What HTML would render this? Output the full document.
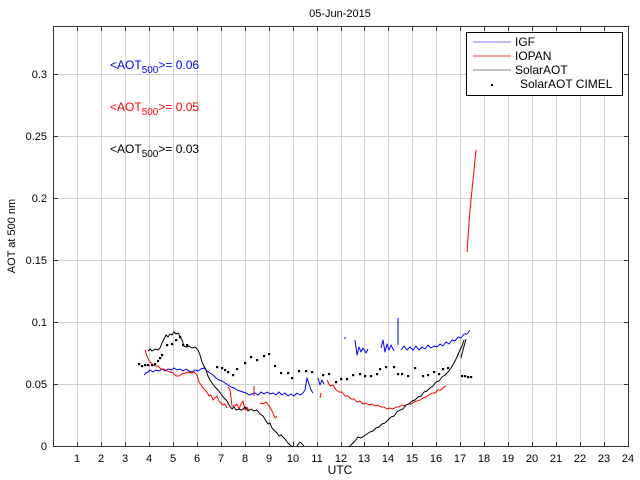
<!DOCTYPE html>
<html><head><meta charset="utf-8"><style>
body{margin:0;background:#fff}
svg{display:block;font-family:"Liberation Sans",sans-serif}
</style></head><body>
<svg width="640" height="480" viewBox="0 0 640 480" xmlns="http://www.w3.org/2000/svg">
<rect width="640" height="480" fill="#fff"/>
<g stroke="#d0d0d0" stroke-width="1">
<path d="M77.5 27V446M101.5 27V446M125.5 27V446M149.5 27V446M173.5 27V446M197.5 27V446M221.5 27V446M245.5 27V446M269.5 27V446M293.5 27V446M317.5 27V446M341.5 27V446M364.5 27V446M388.5 27V446M412.5 27V446M436.5 27V446M460.5 27V446M484.5 27V446M508.5 27V446M532.5 27V446M556.5 27V446M580.5 27V446M604.5 27V446"/>
<path d="M54 384.5H628M54 322.5H628M54 260.5H628M54 198.5H628M54 136.5H628M54 74.5H628"/>
</g>
<rect x="53.5" y="26.5" width="575" height="420" fill="none" stroke="#333" stroke-width="1"/>
<g stroke="#333" stroke-width="1">
<path d="M77.5 446V442M101.5 446V442M125.5 446V442M149.5 446V442M173.5 446V442M197.5 446V442M221.5 446V442M245.5 446V442M269.5 446V442M293.5 446V442M317.5 446V442M341.5 446V442M364.5 446V442M388.5 446V442M412.5 446V442M436.5 446V442M460.5 446V442M484.5 446V442M508.5 446V442M532.5 446V442M556.5 446V442M580.5 446V442M604.5 446V442"/>
<path d="M77.5 27V31M101.5 27V31M125.5 27V31M149.5 27V31M173.5 27V31M197.5 27V31M221.5 27V31M245.5 27V31M269.5 27V31M293.5 27V31M317.5 27V31M341.5 27V31M364.5 27V31M388.5 27V31M412.5 27V31M436.5 27V31M460.5 27V31M484.5 27V31M508.5 27V31M532.5 27V31M556.5 27V31M580.5 27V31M604.5 27V31"/>
<path d="M54 384.5H58M54 322.5H58M54 260.5H58M54 198.5H58M54 136.5H58M54 74.5H58M624 384.5H628M624 322.5H628M624 260.5H628M624 198.5H628M624 136.5H628M624 74.5H628"/>
</g>
<g font-size="11" text-anchor="middle">
<text x="77" y="462">1</text><text x="101" y="462">2</text><text x="125" y="462">3</text><text x="149" y="462">4</text><text x="173" y="462">5</text><text x="197" y="462">6</text><text x="221" y="462">7</text><text x="245" y="462">8</text><text x="269" y="462">9</text><text x="293" y="462">10</text><text x="317" y="462">11</text><text x="341" y="462">12</text><text x="364" y="462">13</text><text x="388" y="462">14</text><text x="412" y="462">15</text><text x="436" y="462">16</text><text x="460" y="462">17</text><text x="484" y="462">18</text><text x="508" y="462">19</text><text x="532" y="462">20</text><text x="556" y="462">21</text><text x="580" y="462">22</text><text x="604" y="462">23</text><text x="628" y="462">24</text>
</g>
<g font-size="11" text-anchor="end">
<text x="47" y="450">0</text><text x="47" y="388">0.05</text><text x="47" y="326">0.1</text><text x="47" y="264">0.15</text><text x="47" y="202">0.2</text><text x="47" y="140">0.25</text><text x="47" y="78">0.3</text>
</g>
<text x="340" y="17" font-size="11" text-anchor="middle">05-Jun-2015</text>
<text x="340" y="474" font-size="12" text-anchor="middle">UTC</text>
<text transform="translate(15,236) rotate(-90)" font-size="11" text-anchor="middle">AOT at 500 nm</text>
<text x="110" y="69" font-size="12" fill="#0000ff">&lt;AOT<tspan font-size="10" dy="4">500</tspan><tspan dy="-4">&gt;= 0.06</tspan></text>
<text x="110" y="111" font-size="12" fill="#ff0000">&lt;AOT<tspan font-size="10" dy="4">500</tspan><tspan dy="-4">&gt;= 0.05</tspan></text>
<text x="110" y="153" font-size="12" fill="#000">&lt;AOT<tspan font-size="10" dy="4">500</tspan><tspan dy="-4">&gt;= 0.03</tspan></text>
<g fill="none" stroke-width="1" stroke-linejoin="round">
<g stroke="#0000ff">
<polyline points="144,375 146,373 148,372 150,370 153,372 156,370 159,371 162,369 165,371 168,369 171,370 174,368 177,370 180,369 183,371 186,369 189,371 192,372 195,370 198,371 201,369 204,368 207,371 210,373 213,375 216,378 219,380 222,381 225,383 228,385 231,387 234,388 237,390 240,391 243,392 246,393 249,395 252,394 255,393 258,395 261,392 264,394 267,392 270,394 273,393 276,395 279,392 282,395 285,393 288,396 291,394 294,396 297,393 300,395 303,393 305,390 307,378 309,384 311,390 313,393"/>
<polyline points="318,378 320,385 322,380 324,384"/>
<polyline points="345,337 345,339"/>
<polyline points="355,340 357,355 359,347 361,352 363,348 366,353 368,349"/>
<polyline points="381,348 383,340 385,352 387,344 389,350 391,345 394,351"/>
<polyline points="398,318 398,345"/>
<polyline points="401,350 404,346 407,350 410,347 413,350 416,346 419,350 422,347 425,349 428,345 431,348 434,346 437,347 440,344 443,346 446,342 449,344 452,340 455,341 458,337 461,338 464,334 467,334 470,330"/>
</g>
<g stroke="#ff0000">
<polyline points="145,350 147,356 149,361 152,364 155,366 158,366 161,369 164,369 167,371 170,372 173,373 176,376 179,376 182,374 185,373 188,372 191,373 194,372 197,375 199,382 201,385 203,388 205,390 207,392 209,396 211,395 213,400 215,398 217,396 219,401 221,403 223,405 225,404 227,408"/>
<polyline points="228,387 230,390 232,406 235,406 237,404 239,409 241,404 243,401 245,410 247,407 249,411"/>
<polyline points="254,386 254,396"/>
<polyline points="260,403 263,404 266,402 269,406 271,409 273,413 275,418 277,416"/>
<polyline points="321,393 320,398"/>
<polyline points="327,380 330,386 333,385 336,390 339,392 342,392 345,396 348,396 351,399 354,399 357,402 360,401 363,404 366,403 369,405 372,404 375,406 378,405 381,407 384,407 387,409 390,408 393,409 396,407 399,407 402,405 405,406 408,404 411,404 414,402 417,401 420,400 423,398 426,397 429,395 432,393 435,393 438,390 441,390 444,387 446,386"/>
<polyline points="467,252 470,210 473,180 476,150"/>
</g>
<g stroke="#000">
<polyline points="148,351 150,349 152,351 155,349 158,350 160,348 162,343 164,339 166,335 168,337 170,334 172,335 174,332 176,334 178,333 180,336 182,340 184,346 186,347 189,346 192,348 195,347 198,350 200,355 202,362 204,366 206,370 208,376 210,380 212,383 215,387 218,390 221,394 224,398 227,401 229,405 232,409 234,407 236,410 239,409 242,410 245,407 248,411 251,409 254,411 257,410 260,414 263,416 266,421 268,424 270,423 272,428 275,431 277,433 279,436 281,435 283,437 285,439 288,443 291,446 293,447"/>
<polyline points="297,446 300,442 302,444 304,446"/>
<polyline points="349,447 352,444 355,441 358,437 361,438 364,436 367,434 370,432 373,431 376,428 379,427 382,424 385,423 388,420 391,417 394,416 397,412 400,410 403,409 406,405 409,404 412,401 415,400 418,397 421,396 424,392 427,391 430,388 433,386 436,382 439,381 442,377 445,375 448,372 451,368 454,363 457,357 460,350 462,346 464,340"/>
<polyline points="461,358 463,350 466,339"/>
</g>
</g>
<g fill="#000">
<rect x="138" y="363" width="2.2" height="2.2"/><rect x="141" y="365" width="2.2" height="2.2"/><rect x="144" y="364" width="2.2" height="2.2"/><rect x="147" y="364" width="2.2" height="2.2"/><rect x="151" y="364" width="2.2" height="2.2"/><rect x="154" y="363" width="2.2" height="2.2"/><rect x="157" y="360" width="2.2" height="2.2"/><rect x="159" y="357" width="2.2" height="2.2"/><rect x="161" y="354" width="2.2" height="2.2"/><rect x="166" y="344" width="2.2" height="2.2"/><rect x="171" y="343" width="2.2" height="2.2"/><rect x="175" y="339" width="2.2" height="2.2"/><rect x="179" y="336" width="2.2" height="2.2"/><rect x="182" y="344" width="2.2" height="2.2"/><rect x="186" y="344" width="2.2" height="2.2"/><rect x="216" y="366" width="2.2" height="2.2"/><rect x="221" y="367" width="2.2" height="2.2"/><rect x="224" y="369" width="2.2" height="2.2"/><rect x="227" y="371" width="2.2" height="2.2"/><rect x="232" y="374" width="2.2" height="2.2"/><rect x="236" y="368" width="2.2" height="2.2"/><rect x="244" y="362" width="2.2" height="2.2"/><rect x="250" y="356" width="2.2" height="2.2"/><rect x="256" y="359" width="2.2" height="2.2"/><rect x="263" y="355" width="2.2" height="2.2"/><rect x="268" y="353" width="2.2" height="2.2"/><rect x="274" y="365" width="2.2" height="2.2"/><rect x="280" y="372" width="2.2" height="2.2"/><rect x="287" y="372" width="2.2" height="2.2"/><rect x="291" y="377" width="2.2" height="2.2"/><rect x="298" y="370" width="2.2" height="2.2"/><rect x="305" y="370" width="2.2" height="2.2"/><rect x="311" y="371" width="2.2" height="2.2"/><rect x="322" y="374" width="2.2" height="2.2"/><rect x="328" y="373" width="2.2" height="2.2"/><rect x="335" y="381" width="2.2" height="2.2"/><rect x="340" y="378" width="2.2" height="2.2"/><rect x="346" y="378" width="2.2" height="2.2"/><rect x="352" y="374" width="2.2" height="2.2"/><rect x="359" y="373" width="2.2" height="2.2"/><rect x="364" y="375" width="2.2" height="2.2"/><rect x="370" y="375" width="2.2" height="2.2"/><rect x="376" y="373" width="2.2" height="2.2"/><rect x="379" y="368" width="2.2" height="2.2"/><rect x="385" y="366" width="2.2" height="2.2"/><rect x="393" y="366" width="2.2" height="2.2"/><rect x="397" y="373" width="2.2" height="2.2"/><rect x="401" y="373" width="2.2" height="2.2"/><rect x="407" y="375" width="2.2" height="2.2"/><rect x="414" y="367" width="2.2" height="2.2"/><rect x="422" y="375" width="2.2" height="2.2"/><rect x="427" y="374" width="2.2" height="2.2"/><rect x="433" y="371" width="2.2" height="2.2"/><rect x="438" y="373" width="2.2" height="2.2"/><rect x="442" y="368" width="2.2" height="2.2"/><rect x="447" y="367" width="2.2" height="2.2"/><rect x="461" y="375" width="2.2" height="2.2"/><rect x="464" y="375" width="2.2" height="2.2"/><rect x="467" y="376" width="2.2" height="2.2"/><rect x="470" y="376" width="2.2" height="2.2"/>
</g>
<rect x="466.5" y="32.5" width="156" height="63" fill="#fff" stroke="#000"/>
<line x1="473" y1="42" x2="511" y2="42" stroke="#aaaaff" stroke-width="1.5"/>
<line x1="473" y1="56" x2="511" y2="56" stroke="#ff8080" stroke-width="1.5"/>
<line x1="473" y1="70" x2="511" y2="70" stroke="#aaaaaa" stroke-width="1.5"/>
<rect x="491" y="84" width="2" height="2" fill="#000"/>
<g font-size="12"><text x="515" y="46">IGF</text><text x="515" y="60">IOPAN</text><text x="515" y="74">SolarAOT</text><text x="520" y="88">SolarAOT CIMEL</text></g>
</svg>
</body></html>
